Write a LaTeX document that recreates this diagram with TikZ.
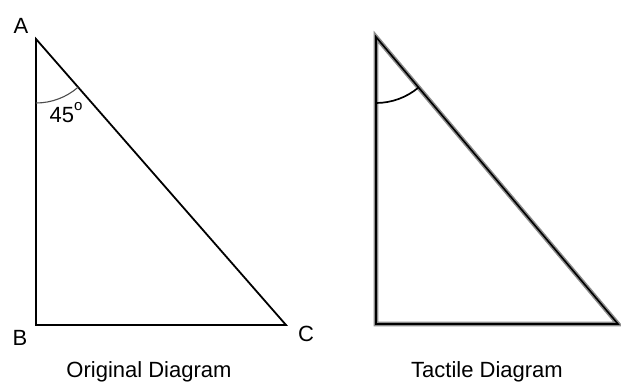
\documentclass[tikz,border=0pt]{standalone}
\usepackage{fontspec}
\setmainfont{Liberation Sans}
\begin{document}
\begin{tikzpicture}[x=1pt,y=1pt,
  lbl/.style={font=\fontsize{22}{24}\selectfont, inner sep=0pt},
  thin tri/.style={line width=1.8pt, line join=miter},
  tact out/.style={line width=4.6pt, draw=black!45, line join=miter},
  tact in/.style={line width=1.6pt, draw=black, line join=miter}]
\useasboundingbox (0,0) rectangle (621,383);
% original
\coordinate (A) at (36,344);
\coordinate (B) at (36,58);
\coordinate (C) at (286,58);
\draw[thin tri] (A) -- (B) -- (C) -- cycle;
\draw[line width=1.1pt, black!70] (A) ++(270:64) arc[start angle=270, end angle=311.2, radius=64];
\node[lbl] (la) at (21,357) {A};
\node[lbl] (lb) at (20,45) {B};
\node[lbl] (lc) at (306,49) {C};
\node[lbl] (ang) at (66,270) {45\raisebox{0.55em}{\fontsize{15}{15}\selectfont o}};
\node[lbl] (t1) at (149,11) {Original Diagram};
% tactile
\coordinate (A2) at (376,346);
\coordinate (B2) at (376,59);
\coordinate (C2) at (618,59);
\draw[tact out] (A2) -- (B2) -- (C2) -- cycle;
\draw[tact in] (A2) -- (B2) -- (C2) -- cycle;
\draw[line width=1.7pt] (A2) ++(270:66) arc[start angle=270, end angle=310.1, radius=66];
\node[lbl] (t2) at (487,11) {Tactile Diagram};
\end{tikzpicture}
\end{document}
